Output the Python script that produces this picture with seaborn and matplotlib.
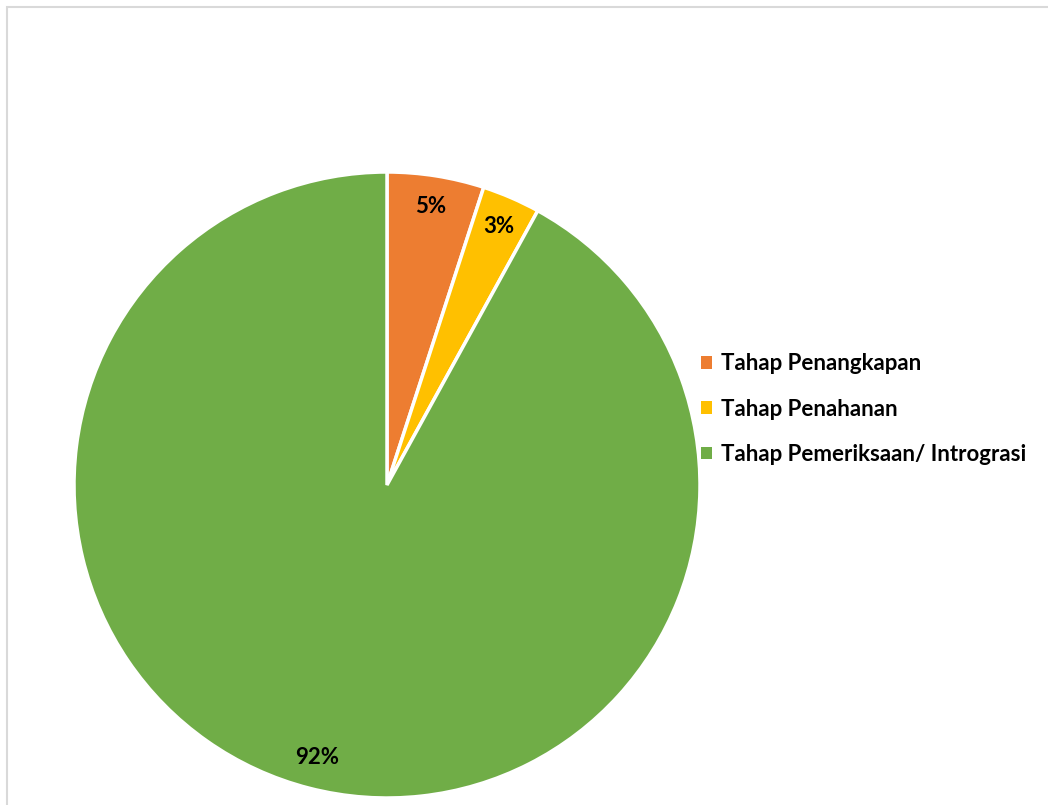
import matplotlib
matplotlib.use("Agg")
import matplotlib.pyplot as plt
import seaborn as sns
from matplotlib.patches import Patch, Rectangle

sns.set_theme(style="white")
plt.rcParams['font.family'] = ['Lato', 'DejaVu Sans']

categories = ["Tahap Penangkapan", "Tahap Penahanan", "Tahap Pemeriksaan/ Intrograsi"]
shares = [5, 3, 92]
colors = ["#ED7D31", "#FFC000", "#70AD47"]

W, H = 1048, 805
fig = plt.figure(figsize=(W / 100, H / 100), dpi=100)
fig.patch.set_facecolor("white")

# light frame around the chart area
fig.patches.append(Rectangle((7 / W, -0.1), 1.2, (H - 7) / H + 0.1, transform=fig.transFigure,
                             fill=False, edgecolor="#D9D9D9", linewidth=1.5))

cx, cy, r = 387, 485, 313
ax = fig.add_axes([(cx - r) / W, (H - cy - r) / H, 2 * r / W, 2 * r / H])
wedges, texts, autotexts = ax.pie(
    shares, colors=colors, startangle=90, counterclock=False, radius=1,
    autopct=lambda p: f"{p:.0f}%", pctdistance=0.9,
    wedgeprops=dict(edgecolor="white", linewidth=2.5),
    textprops=dict(fontsize=16, fontweight="bold", color="black"))
ax.set_xlim(-1, 1)
ax.set_ylim(-1, 1)
ax.set_aspect("equal")
ax.axis("off")

handles = [Patch(facecolor=c, edgecolor="none") for c in colors]
leg = fig.legend(handles, categories, loc="center left", bbox_to_anchor=(681 / W, 1 - 409 / H),
                 frameon=False, handlelength=0.5, handleheight=0.5, handletextpad=0.4,
                 labelspacing=1.1, prop=dict(size=16, weight="bold"))
for t in leg.get_texts():
    t.set_color("black")

fig.savefig("out.png", dpi=100)
